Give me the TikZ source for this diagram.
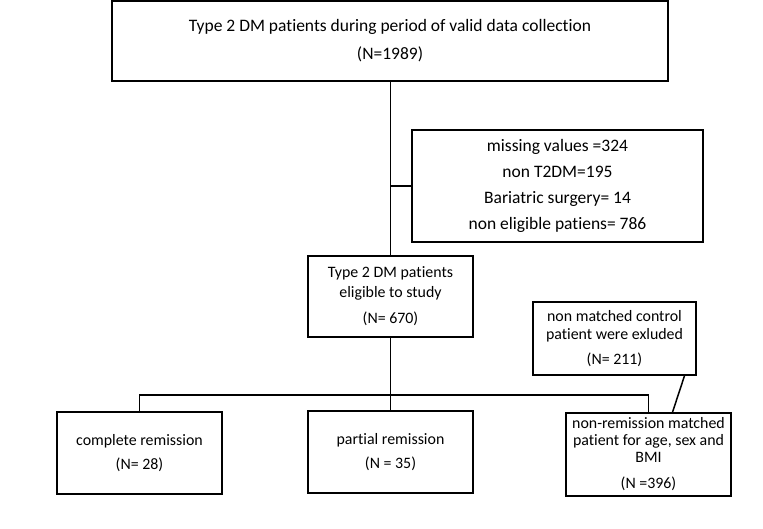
\documentclass[tikz,border=0pt]{standalone}
\usepackage{fontspec}
\setmainfont[Ligatures=NoCommon]{Carlito}
\begin{document}
\begin{tikzpicture}[x=1pt,y=-1pt,
  box/.style={draw=black, line width=1.5pt, rectangle, inner sep=0pt, align=center,
    font=\fontsize{15.9}{18}\selectfont},
  bigbox/.style={box, font=\fontsize{17.5}{19}\selectfont},
  conn/.style={draw=black, line width=1.5pt}]
\useasboundingbox (0,0) rectangle (763,528);
\node[bigbox, minimum width=556pt, minimum height=80pt] (top) at (390,41) {Type 2 DM patients during period of valid data collection\\[9pt](N=1989)};
\node[bigbox, minimum width=291pt, minimum height=112pt] (excl) at (557.5,186) {missing values =324\\[7pt]non T2DM=195\\[7pt]Bariatric surgery= 14\\[7pt]non eligible patiens= 786};
\node[box, minimum width=165pt, minimum height=81pt] (mid) at (390.5,296.5) {Type 2 DM patients\\[2pt]eligible to study\\[8pt](N= 670)};
\node[box, minimum width=163pt, minimum height=73pt] (nm) at (614.5,338.5) {non matched control\\patient were exluded\\[7pt](N= 211)};
\node[box, minimum width=165pt, minimum height=82pt] (bl) at (139.5,453) {complete remission\\[6pt](N= 28)};
\node[box, minimum width=165pt, minimum height=82pt] (bm) at (390.5,452) {partial remission\\[6pt](N = 35)};
\node[box, minimum width=165pt, minimum height=83pt] (br) at (648.5,454.5) {non-remission matched\\[-1pt]patient for age, sex and\\[-1pt]BMI\\[8pt](N =396)};
\coordinate (j) at (390.5,395);
\coordinate (ex) at (390.5,186);
\draw[conn] (top.south -| mid.north) -- (mid.north);
\draw[conn] (ex) -- (excl.west);
\draw[conn] (mid.south) -- (j);
\draw[conn] (bl.north) |- (j) -| (br.north);
\draw[conn] (j) -- (bm.north);
\draw[conn] ([xshift=70pt]nm.south) -- ([xshift=24pt]br.north);
\end{tikzpicture}
\end{document}
